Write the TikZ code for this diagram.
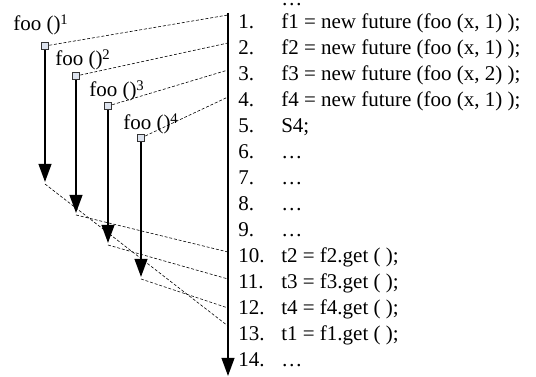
\documentclass[tikz,border=0pt]{standalone}
\usepackage{fontspec}
\setmainfont{Liberation Serif}
\usetikzlibrary{arrows.meta, positioning}
\definecolor{sqFill}{HTML}{DDE3EE}
\definecolor{sqLine}{HTML}{333333}

\begin{document}
\begin{tikzpicture}[x=0.75pt, y=-0.75pt,
  every node/.style={font=\fontsize{15.75}{18}\selectfont, inner sep=0pt},
  call/.style={anchor=base west},
  rownum/.style={anchor=base west},
  code/.style={anchor=base west},
  spawn/.style={draw=sqLine, fill=sqFill, line width=0.6pt, minimum size=5.8pt},
  flow/.style={-{Triangle[length=13.5pt, width=9.5pt]}, line width=1.5pt},
  link/.style={dash pattern=on 2.2pt off 1.4pt, line width=0.45pt}]
  \useasboundingbox (0,0) rectangle (536,377);

  % main thread
  \coordinate (top) at (228,13);
  \coordinate (bot) at (228,376);
  \draw[flow] (top) -- (bot);

  % program lines
  \node[code, text height=1.5pt] (c0) at (281,6) {…};
  \foreach \n/\txt in {1/{f1 = new future (foo (x, 1) );}, 2/{f2 = new future (foo (x, 1) );},
      3/{f3 = new future (foo (x, 2) );}, 4/{f4 = new future (foo (x, 1) );}, 5/{S4;},
      6/{…}, 7/{…}, 8/{…}, 9/{…}, 10/{t2 = f2.get ( );}, 11/{t3 = f3.get ( );},
      12/{t4 = f4.get ( );}, 13/{t1 = f1.get ( );}, 14/{…}} {
    \node[rownum] (n\n) at (238,{3+26*\n}) {\n.};
    \node[code] (c\n) at (281,{3+26*\n}) {\txt};
  }

  % futures
  \foreach \i/\x/\y/\lx/\ly/\ty in {1/45/46/13/31/182, 2/76/76/55/66/213,
      3/108/106/89/97/243, 4/141/138/123/130/277} {
    \node[call] (foo\i) at (\lx,\ly) {foo ()\textsuperscript{\i}};
    \node[spawn] (sq\i) at (\x,\y) {};
    \coordinate (end\i) at (\x,\ty);
    \draw[flow] (sq\i) -- (end\i);
  }

  % fork and join points
  \foreach \i/\y in {1/15, 2/43, 3/70, 4/97} \coordinate (fork\i) at (228,\y);
  \foreach \i/\y in {1/326, 2/252, 3/279, 4/308} \coordinate (join\i) at (228,\y);
  \foreach \i in {1,...,4} {
    \draw[link] (sq\i) -- (fork\i);
    \draw[link] ([yshift=-1.5pt]end\i) -- (join\i);
  }
\end{tikzpicture}
\end{document}
